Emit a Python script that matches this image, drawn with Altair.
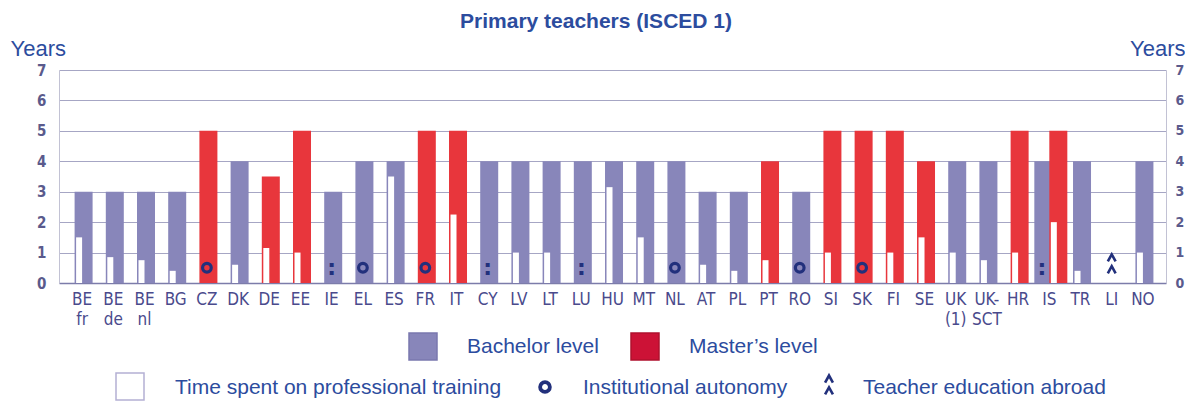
import altair as alt
import pandas as pd

# ---------------- data ----------------
countries = ["BE fr", "BE de", "BE nl", "BG", "CZ", "DK", "DE", "EE", "IE", "EL",
             "ES", "FR", "IT", "CY", "LV", "LT", "LU", "HU", "MT", "NL",
             "AT", "PL", "PT", "RO", "SI", "SK", "FI", "SE", "UK (1)", "UK-SCT",
             "HR", "IS", "TR", "LI", "NO"]
bachelor_years = [3, 3, 3, 3, None, 4, None, None, 3, 4,
                  4, None, None, 4, 4, 4, 4, 4, 4, 4,
                  3, 3, None, 3, None, None, None, None, 4, 4,
                  None, 4, 4, None, 4]
master_years = [None, None, None, None, 5, None, 3.5, 5, None, None,
                None, 5, 5, None, None, None, None, None, None, None,
                None, None, 4, None, 5, 5, 5, 4, None, None,
                5, 5, None, None, None]
training_years = [1.5, 0.85, 0.75, 0.4, None, 0.6, 1.15, 1.0, None, None,
                  3.5, None, 2.25, None, 1.0, 1.0, None, 3.15, 1.5, None,
                  0.6, 0.4, 0.75, None, 1.0, None, 1.0, 1.5, 1.0, 0.75,
                  1.0, 2.0, 0.4, None, 1.0]
markers = ["", "", "", "", "autonomy", "", "", "", "na", "autonomy",
           "", "autonomy", "", "na", "", "", "na", "", "", "autonomy",
           "", "", "", "autonomy", "", "autonomy", "", "", "", "",
           "", "na", "", "abroad", ""]
levels = ["Bachelor level", "Master’s level"]
legend_labels = ["Bachelor level", "Master’s level", "Time spent on professional training",
                 "Institutional autonomy", "Teacher education abroad"]
title_text = "Primary teachers (ISCED 1)"
y_ticks = [0, 1, 2, 3, 4, 5, 6, 7]

# ---------------- tables ----------------
bar_rows, train_rows, mark_rows = [], [], []
for c, b, m, t, k in zip(countries, bachelor_years, master_years, training_years, markers):
    both = b is not None and m is not None
    if b is not None:
        bar_rows.append({"country": c, "level": levels[0], "years": b, "shift": -1 if both else 0})
    if m is not None:
        bar_rows.append({"country": c, "level": levels[1], "years": m, "shift": 1 if both else 0})
    if t is not None:
        train_rows.append({"country": c, "training": t, "shift": 1 if both else 0})
    if k:
        mark_rows.append({"country": c, "kind": k, "shift": -1 if both else 0})
bars_df = pd.DataFrame(bar_rows)
train_df = pd.DataFrame(train_rows)
mark_df = pd.DataFrame(mark_rows)
legend_df = pd.DataFrame({"label": legend_labels})

# ---------------- styles ----------------
GRAY = "#8886ba"
RED = "#e8363c"
RED_LEG = "#cc1236"
DARK = "#22307c"
BLUE = "#2c4c9e"
AXIS_LBL = "#5a5a8c"
NARROW = "Liberation Sans Narrow, DejaVu Sans Condensed, sans-serif"
SANS = "Liberation Sans, Arial, sans-serif"
CHEVRON = "M-0.33,-0.2 L0,-0.8 L0.33,-0.2 M-0.33,0.8 L0,0.2 L0.33,0.8"

W, H = 1107, 213

xscale = alt.Scale(domain=countries, paddingInner=0.52, paddingOuter=0.5)
yscale = alt.Scale(domain=[0, 7], nice=False)


def xoff(lo, hi):
    return alt.XOffset("shift:Q", scale=alt.Scale(domain=[-1, 1], range=[lo, hi]))


x_axis = alt.Axis(
    labelAngle=0, ticks=False, domain=True, domainColor="#7c7caa", domainWidth=1.5,
    labelFont=NARROW, labelFontSize=17, labelColor="#4a4a8c", labelPadding=8,
    labelLineHeight=20, labelBaseline="top",
    labelExpr="datum.label == 'UK-SCT' ? ['UK-', 'SCT'] : split(datum.label, ' ')",
    title=None,
)


def xenc():
    return alt.X("country:N", scale=xscale, sort=None, axis=x_axis)


left_axis = alt.Axis(
    orient="left", values=y_ticks, grid=True, gridColor="#a6a6c4", gridWidth=1,
    ticks=False, domain=True, domainColor="#c2c2d4", labelPadding=13,
    labelFont=NARROW, labelFontSize=15, labelFontWeight="bold", labelColor=AXIS_LBL,
    title="Years", titleAngle=0, titleAlign="left", titleBaseline="alphabetic",
    titleX=-49, titleY=-15, titleFont=SANS, titleFontSize=22,
    titleFontWeight="normal", titleColor=BLUE,
)
right_axis = alt.Axis(
    orient="right", values=y_ticks, grid=False,
    ticks=False, domain=True, domainColor="#c2c2d4", labelPadding=9,
    labelFont=NARROW, labelFontSize=14, labelFontWeight="bold", labelColor=AXIS_LBL,
    title="Years", titleAngle=0, titleAlign="right", titleBaseline="alphabetic",
    titleX=19, titleY=-15, titleFont=SANS, titleFontSize=22,
    titleFontWeight="normal", titleColor=BLUE,
)

bars = alt.Chart(bars_df).mark_bar().encode(
    x=xenc(),
    xOffset=xoff(-7.5, 7.5),
    y=alt.Y("years:Q", scale=yscale, axis=left_axis),
    color=alt.Color("level:N", scale=alt.Scale(domain=levels, range=[GRAY, RED]), legend=None),
)

training = alt.Chart(train_df).mark_bar(width=6, color="white").encode(
    x=xenc(),
    xOffset=xoff(-3, 12),
    y=alt.Y("training:Q", scale=yscale, axis=right_axis),
)

autonomy = alt.Chart(mark_df).transform_filter(alt.datum.kind == "autonomy").mark_point(
    shape="circle", filled=False, size=75, strokeWidth=3.2, color=DARK, opacity=1
).encode(
    x=xenc(),
    xOffset=xoff(0, 15),
    y=alt.YDatum(0.5, scale=yscale, axis=None),
)

not_avail = alt.Chart(mark_df).transform_filter(alt.datum.kind == "na").mark_text(
    text=":", font="DejaVu Sans", fontWeight="bold", fontSize=22, color=DARK,
    baseline="alphabetic", dy=7
).encode(
    x=xenc(),
    xOffset=xoff(0, 15),
    y=alt.YDatum(0.5, scale=yscale, axis=None),
)

abroad = alt.Chart(mark_df).transform_filter(alt.datum.kind == "abroad").mark_point(
    shape=CHEVRON, filled=False, size=560, strokeWidth=2.6, color=DARK, opacity=1
).encode(
    x=xenc(),
    xOffset=xoff(0, 15),
    y=alt.YDatum(0.63, scale=yscale, axis=None),
)

# ---------------- title & legend (placed in pixels) ----------------
def one(label):
    return alt.Chart(legend_df).transform_filter(alt.datum.label == label)


title = one(legend_labels[0]).mark_text(
    text=title_text, font=SANS, fontSize=21, fontWeight="bold", color=BLUE,
    align="center", baseline="alphabetic"
).encode(x=alt.value(537), y=alt.value(-42))


def leg_text(label, x, y):
    return one(label).mark_text(
        align="left", baseline="middle", font=SANS, fontSize=21, color=BLUE
    ).encode(x=alt.value(x), y=alt.value(y), text="label:N")


def leg_box(label, x, y, fill, stroke):
    return one(label).mark_rect(fill=fill, stroke=stroke, strokeWidth=1.5).encode(
        x=alt.value(x), x2=alt.value(x + 28), y=alt.value(y), y2=alt.value(y + 27)
    )


legend = [
    leg_box(legend_labels[0], 350, 263, GRAY, "#7a78ae"),
    leg_text(legend_labels[0], 408, 277),
    leg_box(legend_labels[1], 572, 263, RED_LEG, "#b0102e"),
    leg_text(legend_labels[1], 630, 277),
    leg_box(legend_labels[2], 57, 303, "white", "#b4b0d4"),
    leg_text(legend_labels[2], 116, 318),
    one(legend_labels[3]).mark_point(
        shape="circle", filled=False, size=95, strokeWidth=3.8, color=DARK, opacity=1
    ).encode(x=alt.value(486), y=alt.value(317)),
    leg_text(legend_labels[3], 524, 318),
    one(legend_labels[4]).mark_point(
        shape=CHEVRON, filled=False, size=560, strokeWidth=2.6, color=DARK, opacity=1
    ).encode(x=alt.value(770), y=alt.value(315)),
    leg_text(legend_labels[4], 804, 318),
]

chart = alt.layer(bars, training, autonomy, not_avail, abroad, title, *legend).resolve_axis(
    y="independent"
).resolve_scale(
    xOffset="independent"
).properties(
    width=W, height=H,
    padding={"left": 51, "top": 62, "right": 19, "bottom": 118},
    autosize=alt.AutoSizeParams(type="none"),
    background="white",
).configure_view(strokeWidth=0)

chart.save("out.html", embed_options={"renderer": "svg", "actions": False})
